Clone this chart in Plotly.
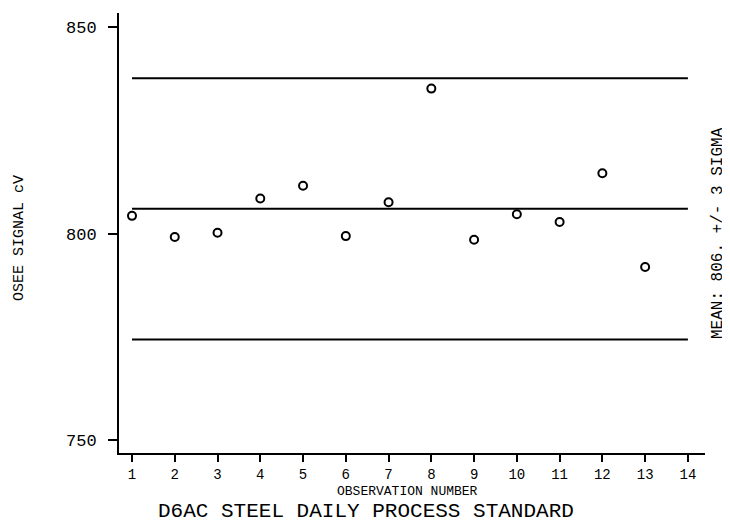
import plotly.graph_objects as go

obs = list(range(1, 14))
signal = [804.3, 799.2, 800.2, 808.5, 811.6, 799.4, 807.6, 835.1, 798.5, 804.7, 802.8, 814.6, 791.9]
mean_val = 806.0
ucl_val = 837.6
lcl_val = 774.4
line_x = [1, 14]
x_ticks = list(range(1, 15))
y_ticks = [750, 800, 850]

FONT = "Liberation Mono"

# page body has an 8px default margin, so the figure is sized to fit the rest
W, H = 722, 515
L, R, T, B = 111, 25, 5, 70
pw, ph = W - L - R, H - T - B


def px(x):
    return (x - 8 - L) / pw


def py(y):
    return (H - B - (y - 8)) / ph


fig = go.Figure()
for v in [ucl_val, mean_val, lcl_val]:
    fig.add_trace(go.Scatter(x=line_x, y=[v, v], mode="lines",
                             line=dict(color="black", width=2), hoverinfo="skip"))
fig.add_trace(go.Scatter(x=obs, y=signal, mode="markers",
                         marker=dict(symbol="circle-open", size=8, color="black",
                                     line=dict(width=2, color="black"))))

fig.update_layout(
    width=W, height=H, showlegend=False,
    paper_bgcolor="white", plot_bgcolor="white",
    margin=dict(l=L, r=R, t=T, b=B),
    font=dict(family=FONT, color="black"),
    xaxis=dict(range=[0.696, 14.4], tickvals=x_ticks, ticktext=[str(t) for t in x_ticks],
               showgrid=False, zeroline=False, showline=True, linecolor="black", linewidth=2,
               ticks="outside", ticklen=7, tickwidth=2, tickcolor="black",
               tickfont=dict(size=14, family=FONT), ticklabelstandoff=0),
    yaxis=dict(range=[746.9, 853.4], tickvals=y_ticks, ticktext=[str(t) for t in y_ticks],
               showgrid=False, zeroline=False, showline=True, linecolor="black", linewidth=2,
               ticks="outside", ticklen=9, tickwidth=2, tickcolor="black",
               tickfont=dict(size=17, family=FONT), ticklabelstandoff=8),
    annotations=[
        dict(text="OSEE SIGNAL cV", xref="paper", yref="paper", x=px(19), y=py(238),
             textangle=-90, showarrow=False, font=dict(size=15, family=FONT),
             xanchor="center", yanchor="middle"),
        dict(text="MEAN: 806. +/- 3 SIGMA", xref="paper", yref="paper", x=px(718), y=py(233),
             textangle=-90, showarrow=False, font=dict(size=16, family=FONT),
             xanchor="center", yanchor="middle"),
        dict(text="OBSERVATION NUMBER", xref="paper", yref="paper", x=px(407), y=py(491),
             showarrow=False, font=dict(size=13, family=FONT),
             xanchor="center", yanchor="middle"),
        dict(text="D6AC STEEL DAILY PROCESS STANDARD", xref="paper", yref="paper",
             x=px(366), y=py(511), showarrow=False, font=dict(size=21, family=FONT),
             xanchor="center", yanchor="middle"),
    ],
)
fig.write_html("out.html")
